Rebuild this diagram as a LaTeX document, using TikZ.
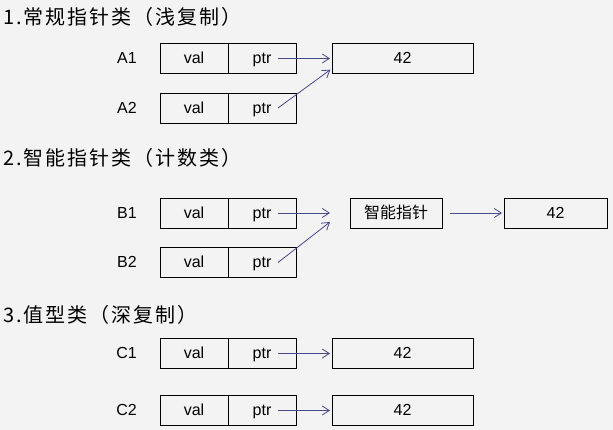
\documentclass[tikz,border=0pt]{standalone}
\usepackage{fontspec}
\setmainfont{Liberation Sans}
\newfontfamily\cjk[LetterSpace=10]{Noto Sans CJK SC}
\newfontfamily\cjkbox{Noto Sans CJK SC}
\usetikzlibrary{positioning,arrows.meta}
\definecolor{bgcol}{RGB}{243,243,243}
\definecolor{arrcol}{RGB}{72,72,140}
\tikzset{
  cell/.style={draw,minimum width=68pt,minimum height=30pt,inner sep=0pt,outer sep=0pt,
    text height=11.5pt,text depth=1pt,font=\fontsize{16}{16}\selectfont},
  objbox/.style={cell,minimum width=141pt},
  lbl/.style={inner sep=0pt,text height=11.5pt,text depth=1pt,font=\fontsize{16}{16}\selectfont},
  title/.style={anchor=west,inner sep=0pt,font=\cjk\fontsize{20}{20}\selectfont},
  link/.style={draw=arrcol,line width=0.8pt,-{Straight Barb[length=7pt,width=9pt]}},
}
\begin{document}
\begin{tikzpicture}[x=1pt,y=-1pt]
\fill[bgcol] (0,0) rectangle (613,430);
\useasboundingbox (0,0) rectangle (613,430);
% titles
\node[title] (t1) at (3,17) {1.常规指针类（浅复制）};
\node[title] (t2) at (3,158) {2.智能指针类（计数类）};
\node[title] (t3) at (3,315) {3.值型类（深复制）};
% val|ptr rows
\foreach \lab/\y in {A1/58.5,A2/108,B1/213,B2/262.5,C1/353.5,C2/410.5}{
  \node[cell] (val\lab) at (194,\y) {val};
  \node[cell,right=0pt of val\lab] (ptr\lab) {ptr};
  \node[lbl,left=23pt of val\lab] (lab\lab) {\lab};
  \coordinate (tail\lab) at ([xshift=16pt]ptr\lab.center);
}
% targets
\node[objbox] (objA) at (402.5,58.5) {42};
\node[cell,minimum width=92pt,text height=13.5pt,text depth=1.5pt,
  font=\cjkbox\fontsize{16}{16}\selectfont] (smart) at (396,213) {智能指针};
\node[objbox,minimum width=103pt] (objB) at (555.5,213) {42};
\node[objbox] (objC1) at (402.5,353.5) {42};
\node[objbox] (objC2) at (402.5,410.5) {42};
\coordinate (hub) at ([xshift=-20pt]smart.west);
% arrows
\draw[link,shorten >=2pt] (tailA1) -- (objA);
\draw[link,shorten >=2pt] (tailA2) -- ([yshift=-10pt]objA.west);
\draw[link] (tailB1) -- (hub);
\draw[link] (tailB2) -- ([yshift=-9pt]hub);
\draw[link,shorten >=2pt] ([xshift=8pt]smart.east) -- (objB);
\draw[link,shorten >=2pt] (tailC1) -- (objC1);
\draw[link,shorten >=2pt] (tailC2) -- (objC2);
\end{tikzpicture}
\end{document}
